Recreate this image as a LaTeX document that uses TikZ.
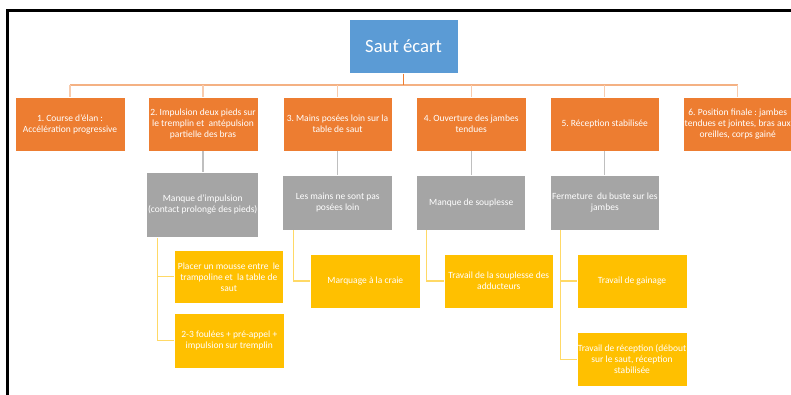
\documentclass[tikz,border=0pt]{standalone}
\usepackage{fontspec}
\setmainfont{Carlito}
\usetikzlibrary{calc}
\definecolor{orng}{HTML}{ED7D31}
\definecolor{orngl}{HTML}{F4B183}
\definecolor{orngll}{HTML}{F8CBAD}
\definecolor{bluec}{HTML}{5B9BD5}
\definecolor{grayc}{HTML}{A5A5A5}
\definecolor{grayl}{HTML}{BFBFBF}
\definecolor{yelc}{HTML}{FFC000}
\definecolor{yell}{HTML}{FFD966}
\newcommand{\wideline}[1]{\makebox[0pt]{#1}}
\begin{document}
\begin{tikzpicture}[x=1pt,y=-1pt,
  box/.style={draw=white, line width=0.5pt, text=white, align=center, inner sep=1pt,
    font=\fontsize{9.5}{11}\selectfont\frenchspacing},
  rootbox/.style={box, fill=bluec, minimum width=109pt, minimum height=54pt,
    font=\fontsize{18.7}{22}\selectfont},
  lone/.style={box, fill=orng, minimum width=109.5pt, minimum height=53.7pt},
  gbox/.style={box, fill=grayc, minimum width=110pt, minimum height=54.7pt},
  ybox/.style={box, fill=yelc, minimum width=109.5pt, minimum height=53.7pt},
  ocon/.style={draw=orng, line width=1.3pt},
  olcon/.style={draw=orngl, line width=1.3pt},
  ollcon/.style={draw=orngll, line width=1.3pt},
  gcon/.style={draw=grayl, line width=1.3pt},
  ycon/.style={draw=yell, line width=1.3pt},
  frame/.style={draw=black, line width=2.6pt}
]
\useasboundingbox (0,0) rectangle (791,395);
\fill[white] (0,0) rectangle (791,395);

% root
\node[rootbox] (root) at (403.5,46.3) {Saut écart};

% level 1
\node[lone] (b1) at (70,124.2) {1. Course d’élan :\\ Accélération progressive};
\node[lone] (b2) at (203,124.2) {2. Impulsion deux pieds sur\\ le tremplin et\ \ antépulsion\\ partielle des bras};
\node[lone] (b3) at (337.5,124.2) {3. Mains posées loin sur la\\ table de saut};
\node[lone] (b4) at (471.2,124.2) {4. Ouverture des jambes\\ tendues};
\node[lone] (b5) at (604.7,124.2) {5. Réception stabilisée};
\node[lone] (b6) at (737.7,124.2) {6. Position finale : jambes\\ \wideline{tendues et jointes, bras aux}\\ oreilles, corps gainé};

% gray
\node[gbox, minimum width=112pt, minimum height=65.7pt] (g1) at (202.7,204.8)
  {Manque d’impulsion\\ (contact prolongé des pieds)};
\node[gbox] (g2) at (337.7,202.7) {Les mains ne sont pas\\ posées loin};
\node[gbox, minimum width=109pt] (g3) at (471.2,202.7) {Manque de souplesse};
\node[gbox, minimum width=109.7pt] (g4) at (604.8,202.7) {Fermeture\ \ du buste sur les\\ jambes};

% yellow
\node[ybox] (y1a) at (228.8,276.8) {Placer un mousse entre\ \ le\\ trampoline et\ \ la table de\\ saut};
\node[ybox, minimum width=110pt, minimum height=54.3pt] (y1b) at (229.3,340.8) {2-3 foulées + pré-appel +\\ impulsion sur tremplin};
\node[ybox, minimum width=110pt] (y2) at (365.3,281) {Marquage à la craie};
\node[ybox] (y3) at (498.8,281) {Travail de la souplesse des\\ adducteurs};
\node[ybox] (y4a) at (632,281) {Travail de gainage};
\node[ybox, minimum height=54pt] (y4b) at (632,359.3) {\wideline{Travail de réception (débout}\\ sur le saut, réception\\ stabilisée};

% connectors root
\coordinate (hub) at (403.5,85);
\coordinate (hl) at (70,85);
\coordinate (hr) at (737.7,85);
\draw[olcon] (hl) -- (hr);
\draw[ocon] (root.south) -- (hub);
\foreach \b in {b1,b2,b3,b4,b5,b6} {
  \draw[ollcon] (\b.north |- hub) -- (\b.north);
}

% gray connectors
\draw[gcon] (b2.south) -- (b2.south |- g1.north);
\draw[gcon] (b3.south) -- (b3.south |- g2.north);
\draw[gcon] (b4.south) -- (b4.south |- g3.north);
\draw[gcon] (b5.south) -- (b5.south |- g4.north);

% yellow connectors
\draw[ycon] ($(g1.south west)+(11,0)$) |- (y1b.west);
\draw[ycon] ($(g1.south west)+(11,0)$) |- (y1a.west);
\draw[ycon] ($(g2.south west)+(11,0)$) |- (y2.west);
\draw[ycon] ($(g3.south west)+(10,0)$) |- (y3.west);
\draw[ycon] ($(g4.south west)+(10.7,0)$) |- (y4b.west);
\draw[ycon] ($(g4.south west)+(10.7,0)$) |- (y4a.west);

% frame
\draw[frame] (7.2,396) -- (7.2,10.7) -- (792,10.7);
\end{tikzpicture}
\end{document}
